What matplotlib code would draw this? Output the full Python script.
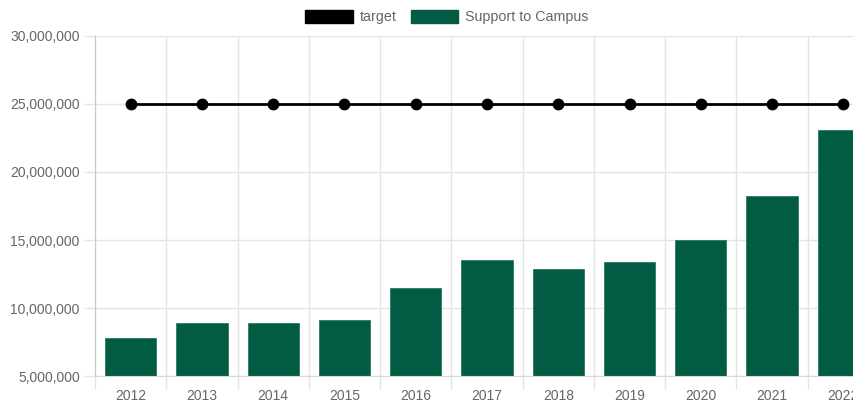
import matplotlib.pyplot as plt
from matplotlib.patches import Patch
from matplotlib.ticker import FuncFormatter

years = ["2012", "2013", "2014", "2015", "2016", "2017", "2018", "2019", "2020", "2021", "2022"]
support = [7.77e6, 8.92e6, 8.90e6, 9.09e6, 11.47e6, 13.53e6, 12.87e6, 13.38e6, 15.0e6, 18.24e6, 23.09e6]
target = [25e6] * len(years)

green = "#025b43"
grid = "#e4e4e4"
txt = "#666666"
plt.rcParams["font.family"] = ["Liberation Sans", "DejaVu Sans"]

fig = plt.figure(figsize=(8.54, 4.08), dpi=100)
# plot area is wider than the picture: the last category is cut off on the right
ax = fig.add_axes([95 / 854, 32 / 408, 784 / 854, 340 / 408])

x = list(range(len(years)))
ax.bar(x, support, width=0.72, color=green, edgecolor="#2a7a60", linewidth=0.6, zorder=2)
ax.plot(x, target, color="black", linewidth=2.0, marker="o", markersize=7.5, zorder=3, clip_on=False)

ax.set_xlim(-0.5, len(years) - 0.5)
ax.set_ylim(5e6, 30e6)
ax.set_yticks([5e6, 10e6, 15e6, 20e6, 25e6, 30e6])
ax.yaxis.set_major_formatter(FuncFormatter(lambda v, p: f"{int(v):,}"))
ax.set_xticks(x)
ax.set_xticklabels(years)
ax.set_xticks([i - 0.5 for i in range(len(years) + 1)], minor=True)

ax.grid(True, which="minor", axis="x", color=grid, linewidth=1, zorder=0)
ax.grid(True, which="major", axis="y", color=grid, linewidth=1, zorder=0)
ax.tick_params(axis="x", which="major", length=0, pad=9, labelsize=10, labelcolor=txt)
ax.tick_params(axis="x", which="minor", length=9, color=grid, width=1)
ax.tick_params(axis="y", length=8, color=grid, width=1, pad=3, labelsize=10, labelcolor=txt)

for s in ["top", "right"]:
    ax.spines[s].set_visible(False)
ax.spines["left"].set_color("#c8c8c8")
ax.spines["bottom"].set_color("#d8d8d8")

handles = [Patch(facecolor="black", edgecolor="black"), Patch(facecolor=green, edgecolor=green)]
fig.legend(handles, ["target", "Support to Campus"], loc="center", bbox_to_anchor=(447 / 854, 1 - 17 / 408),
           ncol=2, frameon=False, handlelength=3.3, handleheight=1.05, handletextpad=0.5, columnspacing=1.0,
           fontsize=10.3, labelcolor=txt)

fig.savefig("out.png", dpi=100)
